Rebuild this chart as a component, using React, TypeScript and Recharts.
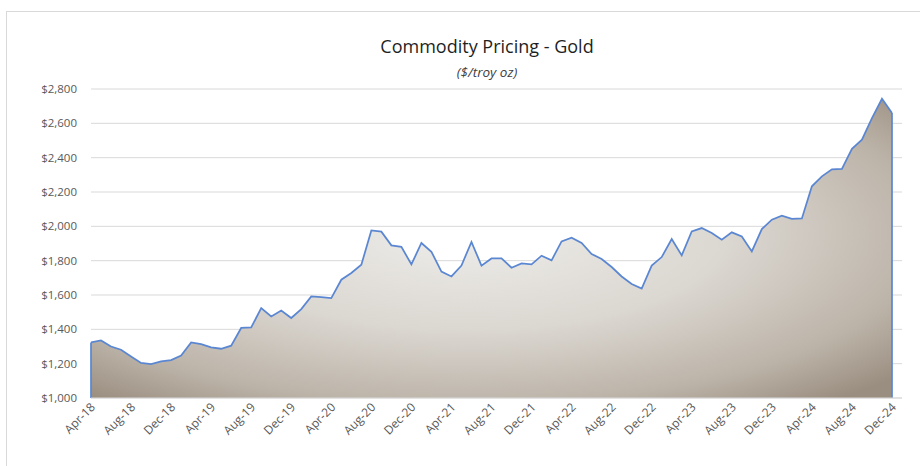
import React from 'react';
import { Area, AreaChart, CartesianGrid, ReferenceLine, XAxis, YAxis } from 'recharts';

const MONTH_NAMES = ['Jan', 'Feb', 'Mar', 'Apr', 'May', 'Jun', 'Jul', 'Aug', 'Sep', 'Oct', 'Nov', 'Dec'];

// monthly gold price, Apr-18 .. Dec-24 ($/troy oz)
const PRICES = [
  1324, 1335, 1300, 1281, 1242, 1204, 1198, 1213, 1221,
  1248, 1324, 1314, 1295, 1287, 1305, 1408, 1411, 1524, 1475, 1510, 1466,
  1518, 1592, 1588, 1582, 1689, 1728, 1776, 1976, 1969, 1889, 1881, 1778,
  1903, 1852, 1736, 1708, 1772, 1909, 1771, 1813, 1813, 1759, 1784, 1778,
  1829, 1802, 1912, 1934, 1903, 1839, 1810, 1763, 1708, 1664, 1638, 1771,
  1821, 1926, 1831, 1970, 1990, 1961, 1922, 1965, 1941, 1854, 1984, 2039,
  2062, 2043, 2046, 2233, 2291, 2332, 2334, 2452, 2505, 2631, 2743, 2660,
];

const TICK_LABELS = [
  'Apr-18', 'Aug-18', 'Dec-18', 'Apr-19', 'Aug-19', 'Dec-19', 'Apr-20', 'Aug-20', 'Dec-20', 'Apr-21', 'Aug-21',
  'Dec-21', 'Apr-22', 'Aug-22', 'Dec-22', 'Apr-23', 'Aug-23', 'Dec-23', 'Apr-24', 'Aug-24', 'Dec-24',
];

const Y_TICKS = [1000, 1200, 1400, 1600, 1800, 2000, 2200, 2400, 2600, 2800];

const data = PRICES.map((price, i) => {
  const m = 3 + i;
  const label = `${MONTH_NAMES[m % 12]}-${18 + Math.floor(m / 12)}`;
  return { i, label, price };
});

const FONT = '"Open Sans", "Noto Sans", sans-serif';
const TEXT = '#595959';

function XTick({ x, y, payload }: any) {
  const tx = x + 2;
  const ty = y + 3;
  return (
    <text
      x={tx}
      y={ty}
      dy="0.35em"
      textAnchor="end"
      transform={`rotate(-45 ${tx} ${ty})`}
      fill={TEXT}
      fontSize={12}
      fontFamily={FONT}
    >
      {TICK_LABELS[payload.value / 4]}
    </text>
  );
}

export default function App() {
  const last = PRICES.length - 1;
  return (
    <div style={{ position: 'fixed', left: 0, top: 0, width: 920, height: 466, overflow: 'hidden', background: '#fff' }}>
      <div
        style={{
          position: 'absolute',
          left: 6,
          top: 11,
          width: 940,
          height: 480,
          border: '1px solid #d9d9d9',
        }}
      />
      <div
        style={{
          position: 'absolute',
          left: 0,
          width: 974,
          top: 34,
          textAlign: 'center',
          fontFamily: FONT,
          fontSize: 18,
          color: '#1f1f1f',
          lineHeight: '24px',
        }}
      >
        Commodity Pricing - Gold
      </div>
      <div
        style={{
          position: 'absolute',
          left: 0,
          width: 974,
          top: 62,
          textAlign: 'center',
          fontFamily: FONT,
          fontSize: 13.5,
          fontStyle: 'italic',
          color: '#404040',
          lineHeight: '20px',
        }}
      >
        ($/troy oz)
      </div>
      <div style={{ position: 'absolute', left: 0, top: 0 }}>
        <AreaChart width={920} height={466} data={data} margin={{ top: 89, right: 18, bottom: 8, left: 0 }}>
          <defs>
            <radialGradient id="goldFill" cx="0.47" cy="0.45" r="0.72">
              <stop offset="0" stopColor="#eeedea" />
              <stop offset="0.45" stopColor="#dbd7d1" />
              <stop offset="0.8" stopColor="#bcb3a8" />
              <stop offset="1" stopColor="#9a8e80" />
            </radialGradient>
          </defs>
          <CartesianGrid vertical={false} stroke="#d9d9d9" />
          <XAxis
            type="number"
            dataKey="i"
            domain={[0, 81]}
            ticks={TICK_LABELS.map((_, k) => k * 4)}
            interval={0}
            height={60}
            axisLine={{ stroke: '#d9d9d9' }}
            tickLine={false}
            tickSize={0}
            tickMargin={4}
            tick={<XTick />}
          />
          <YAxis
            domain={[1000, 2800]}
            ticks={Y_TICKS}
            width={91}
            axisLine={false}
            tickLine={false}
            tickSize={0}
            tickMargin={14}
            tick={{ fill: TEXT, fontSize: 11.5, fontFamily: FONT }}
            tickFormatter={(v: number) => `$${v.toLocaleString('en-US')}`}
          />
          <Area
            type="linear"
            dataKey="price"
            stroke="#5b87d2"
            strokeWidth={1.75}
            fill="url(#goldFill)"
            fillOpacity={1}
            isAnimationActive={false}
            dot={false}
            activeDot={false}
          />
          <ReferenceLine
            segment={[{ x: 0, y: 1000 }, { x: 0, y: PRICES[0] }]}
            stroke="#5b87d2"
            strokeWidth={1.75}
          />
          <ReferenceLine
            segment={[{ x: last, y: 1000 }, { x: last, y: PRICES[last] }]}
            stroke="#5b87d2"
            strokeWidth={1.75}
          />
        </AreaChart>
      </div>
    </div>
  );
}
